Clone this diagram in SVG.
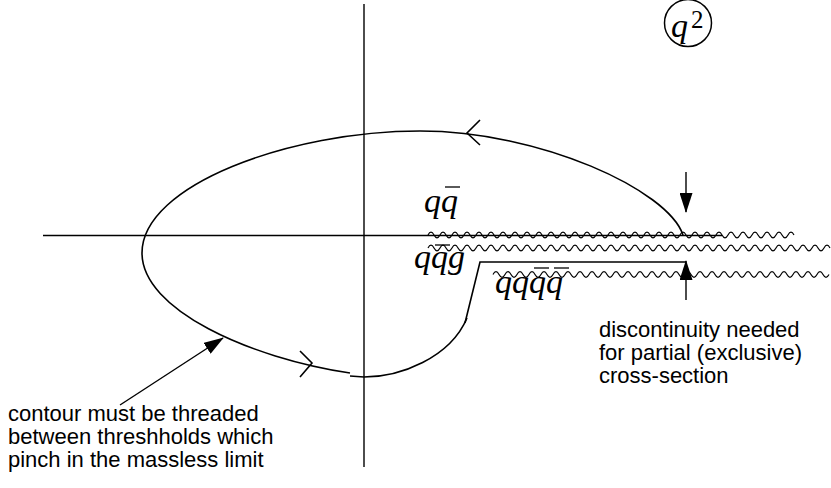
<svg xmlns="http://www.w3.org/2000/svg" width="831" height="488" viewBox="0 0 831 488">
<style>
.ln{fill:none;stroke:#000;stroke-width:1.4}
.ct{fill:none;stroke:#000;stroke-width:1.6}
.wv{fill:none;stroke:#000;stroke-width:1.2}
.ov{stroke:#000;stroke-width:1.3}
.m{font-family:"Liberation Serif","DejaVu Serif",serif;font-style:italic;font-size:34px;fill:#000}
.t{font-family:"Liberation Sans",Arial,sans-serif;font-size:22px;fill:#000}
</style>
<defs>
<marker id="ah" markerUnits="userSpaceOnUse" viewBox="0 0 20 13" markerWidth="20" markerHeight="13" refX="19" refY="6.5" orient="auto">
<path d="M0,0 L20,6.5 L0,13 z" fill="#000"/>
</marker>
</defs>
<g id="axes">
<line class="ln" x1="364" y1="4" x2="364" y2="467"/>
<line class="ln" x1="43" y1="235.5" x2="722" y2="235.5"/>
</g>
<g id="thresholds">
<path class="wv" d="M428,235 q3,-5.6 6,0 t6 0 t6 0 t6 0 t6 0 t6 0 t6 0 t6 0 t6 0 t6 0 t6 0 t6 0 t6 0 t6 0 t6 0 t6 0 t6 0 t6 0 t6 0 t6 0 t6 0 t6 0 t6 0 t6 0 t6 0 t6 0 t6 0 t6 0 t6 0 t6 0 t6 0 t6 0 t6 0 t6 0 t6 0 t6 0 t6 0 t6 0 t6 0 t6 0 t6 0 t6 0 t6 0 t6 0 t6 0 t6 0 t6 0 t6 0 t6 0 t6 0 t6 0 t6 0 t6 0 t6 0 t6 0 t6 0 t6 0 t6 0 t6 0 t6 0 t6 0"/>
<path class="wv" d="M428,248 q3,-5.6 6,0 t6 0 t6 0 t6 0 t6 0 t6 0 t6 0 t6 0 t6 0 t6 0 t6 0 t6 0 t6 0 t6 0 t6 0 t6 0 t6 0 t6 0 t6 0 t6 0 t6 0 t6 0 t6 0 t6 0 t6 0 t6 0 t6 0 t6 0 t6 0 t6 0 t6 0 t6 0 t6 0 t6 0 t6 0 t6 0 t6 0 t6 0 t6 0 t6 0 t6 0 t6 0 t6 0 t6 0 t6 0 t6 0 t6 0 t6 0 t6 0 t6 0 t6 0 t6 0 t6 0 t6 0 t6 0 t6 0 t6 0 t6 0 t6 0 t6 0 t6 0 t6 0 t6 0 t6 0 t6 0 t6 0 t6 0"/>
<path class="wv" d="M493,274.5 q3,-5.6 6,0 t6 0 t6 0 t6 0 t6 0 t6 0 t6 0 t6 0 t6 0 t6 0 t6 0 t6 0 t6 0 t6 0 t6 0 t6 0 t6 0 t6 0 t6 0 t6 0 t6 0 t6 0 t6 0 t6 0 t6 0 t6 0 t6 0 t6 0 t6 0 t6 0 t6 0 t6 0 t6 0 t6 0 t6 0 t6 0 t6 0 t6 0 t6 0 t6 0 t6 0 t6 0 t6 0 t6 0 t6 0 t6 0 t6 0 t6 0 t6 0 t6 0 t6 0 t6 0 t6 0 t6 0 t6 0 t6 0"/>
</g>
<g id="contour">
<path class="ct" d="M683,235 C668,190 540,131 420,131 C290,131 142,185 142,253 C142,310 250,358 350,373"/>
<path class="ct" d="M350,376 L364,377 C400,377 450,358 467,318"/>
<path class="ct" d="M465,323 L480,262 L686,262"/>
<polyline class="ct" points="480,120 467,133 480,145"/>
<polyline class="ct" points="300,351 312,363 300,377"/>
</g>
<g id="labels">
<g id="q2">
<circle cx="688" cy="23" r="23.5" fill="none" stroke="#000" stroke-width="1.5"/>
<text class="m" x="671" y="37" font-size="32">q</text>
<text x="691" y="28" font-family="Liberation Serif, DejaVu Serif, serif" font-size="25" fill="#000">2</text>
</g>
<g id="qqbar">
<text class="m" x="424" y="212">qq</text>
<line class="ov" x1="445" y1="187" x2="460" y2="187"/>
</g>
<g id="qqbarg">
<text class="m" x="414" y="268">qqg</text>
<line class="ov" x1="435" y1="245" x2="450" y2="245"/>
</g>
<g id="qqqbarqbar">
<text class="m" x="495" y="293">qqqq</text>
<line class="ov" x1="534" y1="268" x2="549" y2="268"/>
<line class="ov" x1="554" y1="268" x2="569" y2="268"/>
</g>
</g>
<g id="connectors">
<line class="ln" x1="686" y1="172" x2="686" y2="212" marker-end="url(#ah)"/>
<line class="ln" x1="686" y1="300" x2="686" y2="261" marker-end="url(#ah)"/>
<line class="ln" x1="120" y1="405" x2="223" y2="338" marker-end="url(#ah)"/>
</g>
<g id="notes">
<text class="t"><tspan x="599" y="337">discontinuity needed</tspan><tspan x="599" y="360">for partial (exclusive)</tspan><tspan x="599" y="383">cross-section</tspan></text>
<text class="t"><tspan x="8" y="421">contour must be threaded</tspan><tspan x="8" y="444">between threshholds which</tspan><tspan x="8" y="467">pinch in the massless limit</tspan></text>
</g>
</svg>
